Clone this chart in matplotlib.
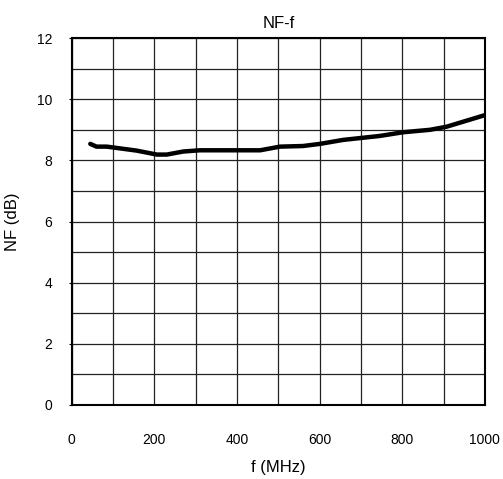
import matplotlib
matplotlib.use("Agg")
import matplotlib.pyplot as plt
from matplotlib.ticker import MultipleLocator

plt.rcParams['font.family'] = ['Liberation Sans', 'DejaVu Sans']

freq_mhz = [45, 60, 85, 157, 206, 230, 270, 310, 456, 504, 560, 601, 657, 746, 802, 867, 907, 1000]
nf_db = [8.54, 8.45, 8.45, 8.32, 8.19, 8.19, 8.29, 8.33, 8.33, 8.45, 8.47, 8.54, 8.67, 8.80, 8.92, 9.00, 9.10, 9.48]

x_ticks = [0, 200, 400, 600, 800, 1000]
y_ticks = [0, 2, 4, 6, 8, 10, 12]

fig = plt.figure(figsize=(5.03, 4.79), dpi=100)
ax = fig.add_axes([0.1425, 0.1545, 0.8215, 0.766])

ax.plot(freq_mhz, nf_db, color='black', lw=3.2, solid_capstyle='round', zorder=3)

ax.set_xlim(0, 1000)
ax.set_ylim(0, 12)
ax.set_xticks(x_ticks)
ax.set_yticks(y_ticks)
ax.xaxis.set_minor_locator(MultipleLocator(100))
ax.yaxis.set_minor_locator(MultipleLocator(1))
ax.grid(which='both', color='#222222', lw=0.9)
ax.set_axisbelow(True)
ax.tick_params(axis='x', which='both', length=0, pad=20, labelsize=10)
ax.tick_params(axis='y', which='major', length=2, pad=12, labelsize=10)
ax.tick_params(axis='y', which='minor', length=0)
for s in ax.spines.values():
    s.set_linewidth(1.5)
    s.set_color('black')

ax.set_title('NF-f', fontsize=12, pad=7)
ax.set_xlabel('f (MHz)', fontsize=12)
ax.set_ylabel('NF (dB)', fontsize=12)
ax.xaxis.set_label_coords(0.5, -0.15)
ax.yaxis.set_label_coords(-0.125, 0.5)

fig.savefig('out.png', dpi=100)
